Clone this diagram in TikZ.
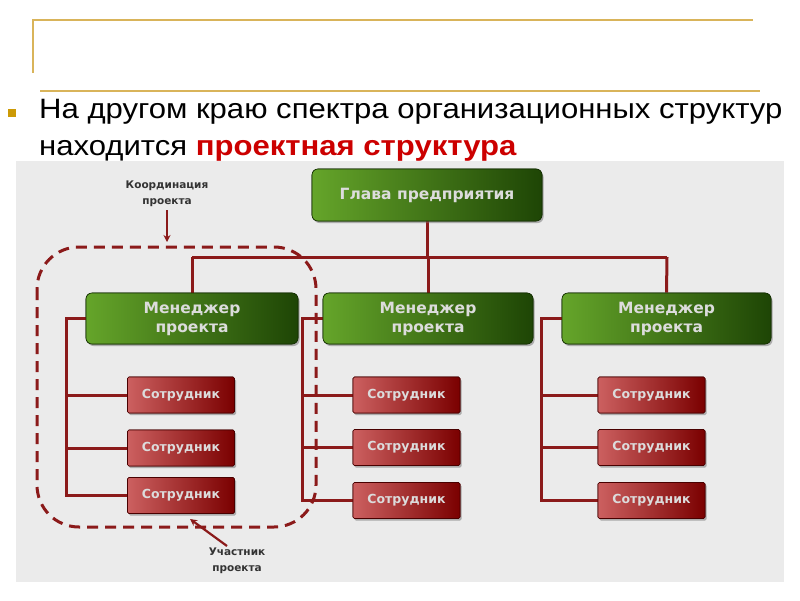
\documentclass[tikz,border=0pt]{standalone}
\usepackage{fontspec}
\usepackage{graphicx}
\setmainfont{Liberation Sans}
\newfontfamily\boxfont{DejaVu Sans}
\usetikzlibrary{shadows,arrows.meta}
\definecolor{gold}{HTML}{D9B45A}
\definecolor{bulletc}{HTML}{CC9A06}
\definecolor{bgray}{HTML}{EBEBEB}
\definecolor{lred}{HTML}{8B1A1A}
\definecolor{gL}{HTML}{65A52A}
\definecolor{gR}{HTML}{1E4505}
\definecolor{rL}{HTML}{CC6060}
\definecolor{rR}{HTML}{7A0000}
\definecolor{boxtxt}{HTML}{DCDCDC}
\definecolor{titlered}{HTML}{CC0000}
\begin{document}
\begin{tikzpicture}[x=1pt,y=-1pt,
  greenbox/.style={draw=gR!70!black, line width=0.6pt, rounded corners=6pt, left color=gL, right color=gR,
     inner sep=0pt, align=center, text=boxtxt, font=\boxfont\bfseries\fontsize{15.5}{19}\selectfont,
     drop shadow={shadow xshift=1.5pt, shadow yshift=-2pt, opacity=0.35}},
  redbox/.style={draw=rR!60!black, line width=0.6pt, rounded corners=1.5pt, left color=rL, right color=rR,
     inner sep=0pt, minimum width=107pt, minimum height=36pt, text=boxtxt,
     font=\boxfont\bfseries\fontsize{12.5}{14}\selectfont,
     drop shadow={shadow xshift=1.5pt, shadow yshift=-2pt, opacity=0.35}},
  conn/.style={draw=lred, line width=3pt},
  dashbox/.style={draw=lred, line width=3pt, dash pattern=on 11pt off 7pt, rounded corners=42pt},
  note/.style={align=center, text=black!80, font=\boxfont\bfseries\fontsize{10.5}{16}\selectfont},
  notearrow/.style={draw=lred, line width=2.2pt, -{Stealth[length=7pt,width=7pt]}}
]
\useasboundingbox (0,0) rectangle (800,600);
\fill[white] (0,0) rectangle (800,600);
% title decoration
\draw[gold, line width=1.5pt] (32,20) -- (753,20);
\draw[gold, line width=1.5pt] (33,20) -- (33,73);
\draw[gold, line width=1.5pt] (40,91) -- (760,91);
% bullet and text
\fill[bulletc] (8,109) rectangle (16,117);
\node[anchor=base west, inner sep=0pt, font=\fontsize{28}{34}\selectfont] (t1) at (39,118)
  {\scalebox{1.11}[1]{На другом краю спектра организационных структур}};
\node[anchor=base west, inner sep=0pt, font=\fontsize{28}{34}\selectfont] (t2) at (39,155)
  {\scalebox{1.11}[1]{находится \textcolor{titlered}{\bfseries проектная структура}}};
% gray background
\fill[bgray] (16,161) rectangle (784,582);
% nodes
\node[greenbox, minimum width=230pt, minimum height=52pt] (head) at (427,195) {Глава предприятия};
\node[greenbox, minimum width=212pt, minimum height=51pt] (m1) at (192,318.5) {Менеджер\\проекта};
\node[greenbox, minimum width=210pt, minimum height=51pt] (m2) at (428,318.5) {Менеджер\\проекта};
\node[greenbox, minimum width=209pt, minimum height=51pt] (m3) at (666.5,318.5) {Менеджер\\проекта};
\node[redbox] (e11) at (181,395) {Сотрудник};
\node[redbox] (e12) at (181,448) {Сотрудник};
\node[redbox] (e13) at (181,495.5) {Сотрудник};
\node[redbox] (e21) at (406.5,395) {Сотрудник};
\node[redbox] (e22) at (406.5,447.5) {Сотрудник};
\node[redbox] (e23) at (406.5,500.5) {Сотрудник};
\node[redbox] (e31) at (651.5,395) {Сотрудник};
\node[redbox] (e32) at (651.5,447.5) {Сотрудник};
\node[redbox] (e33) at (651.5,500.5) {Сотрудник};
% connectors
\coordinate (busL) at (192,257);
\coordinate (busR) at (667,257);
\coordinate (tr1) at (66,318.5);
\coordinate (tr2) at (302,318.5);
\coordinate (tr3) at (541,318.5);
\path[conn] (head.south) -- (head.south |- busL);
\path[conn] (busL) -- (busR);
\path[conn] (busL) -- (m1.north);
\path[conn] (m2.north |- busL) -- (m2.north);
\path[conn] (busR) -- (m3.north);
\path[conn] (m1.west) -- (tr1) |- (e13.west);
\path[conn] (tr1 |- e11.west) -- (e11.west);
\path[conn] (tr1 |- e12.west) -- (e12.west);
\path[conn] (m2.west) -- (tr2) |- (e23.west);
\path[conn] (tr2 |- e21.west) -- (e21.west);
\path[conn] (tr2 |- e22.west) -- (e22.west);
\path[conn] (m3.west) -- (tr3) |- (e33.west);
\path[conn] (tr3 |- e31.west) -- (e31.west);
\path[conn] (tr3 |- e32.west) -- (e32.west);
% dashed project group
\coordinate (dtl) at (37,247);
\coordinate (dbr) at (316,527);
\path[dashbox] (dtl) rectangle (dbr);
% notes
\node[note] (n1) at (167,194) {Координация\\проекта};
\coordinate (n1tip) at (167,242);
\path[notearrow] (n1.south) -- (n1tip);
\node[note] (n2) at (237,561) {Участник\\проекта};
\coordinate (n2tail) at (227,546);
\coordinate (n2tip) at (190,519);
\path[notearrow] (n2tail) -- (n2tip);
% redraw boxes on top of connectors
\node[greenbox, minimum width=230pt, minimum height=52pt] at (head) {Глава предприятия};
\node[greenbox, minimum width=212pt, minimum height=51pt] at (m1) {Менеджер\\проекта};
\node[greenbox, minimum width=210pt, minimum height=51pt] at (m2) {Менеджер\\проекта};
\node[greenbox, minimum width=209pt, minimum height=51pt] at (m3) {Менеджер\\проекта};
\foreach \e in {e11,e12,e13,e21,e22,e23,e31,e32,e33}
  \node[redbox] at (\e) {Сотрудник};
\end{tikzpicture}
\end{document}
